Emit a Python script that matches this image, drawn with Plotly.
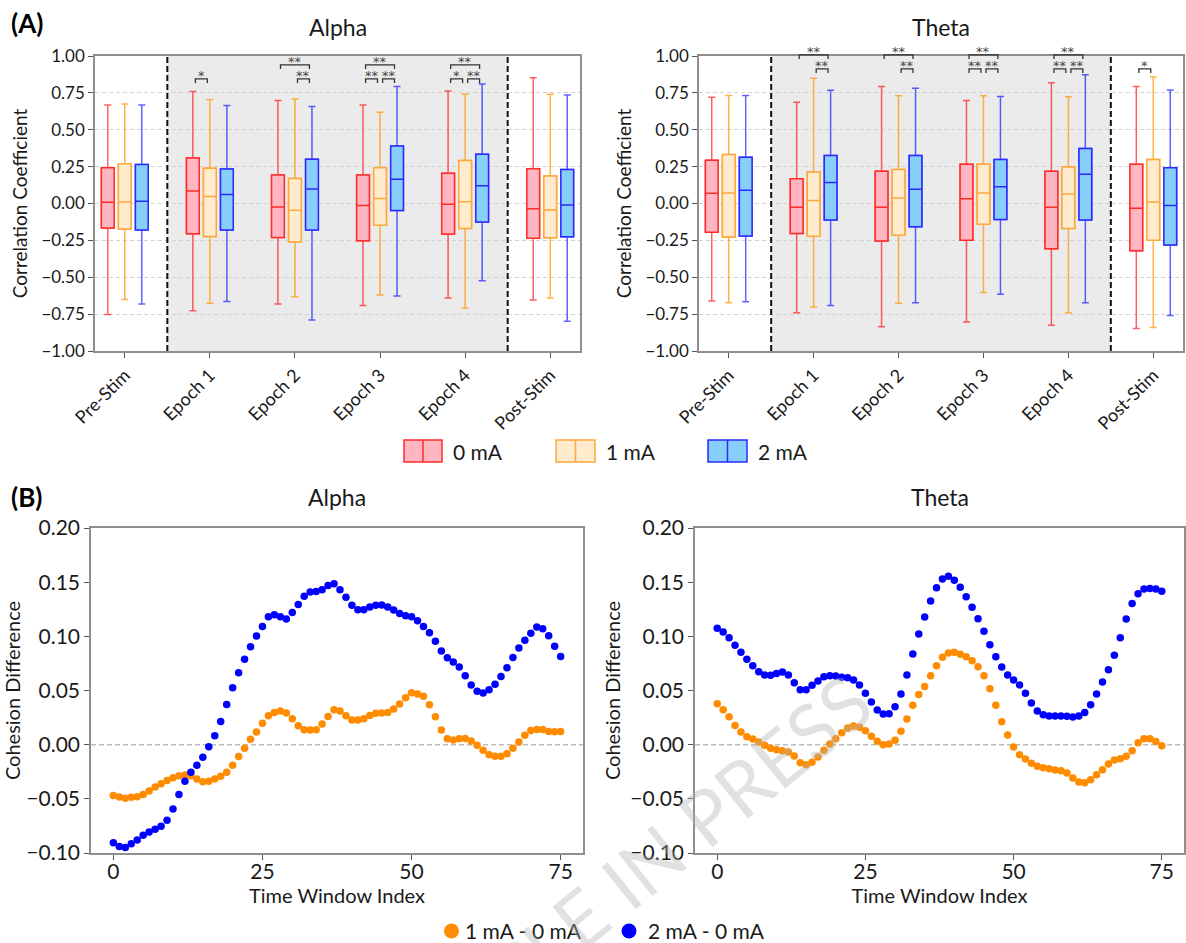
import plotly.graph_objects as go

W, H = 1186, 943
FONT = "Lato"

# ---------------- data ----------------
categories = ["Pre-Stim", "Epoch 1", "Epoch 2", "Epoch 3", "Epoch 4", "Post-Stim"]
currents = ["0 mA", "1 mA", "2 mA"]

# Alpha box statistics: rows = 0 mA, 1 mA, 2 mA ; columns = categories
alpha_lower = [[-0.752, -0.727, -0.682, -0.691, -0.641, -0.655],
               [-0.650, -0.677, -0.632, -0.620, -0.709, -0.641],
               [-0.682, -0.664, -0.789, -0.627, -0.524, -0.798]]
alpha_q1 = [[-0.166, -0.205, -0.230, -0.252, -0.207, -0.236],
            [-0.173, -0.223, -0.259, -0.148, -0.170, -0.232],
            [-0.180, -0.180, -0.180, -0.048, -0.125, -0.225]]
alpha_median = [[0.009, 0.085, -0.023, -0.014, -0.005, -0.036],
                [0.010, 0.048, -0.045, 0.034, 0.012, -0.044],
                [0.016, 0.061, 0.098, 0.165, 0.120, -0.011]]
alpha_q3 = [[0.243, 0.309, 0.193, 0.193, 0.205, 0.236],
            [0.270, 0.239, 0.170, 0.243, 0.291, 0.186],
            [0.264, 0.234, 0.300, 0.389, 0.334, 0.230]]
alpha_upper = [[0.668, 0.759, 0.698, 0.668, 0.762, 0.853],
               [0.675, 0.705, 0.709, 0.618, 0.741, 0.740],
               [0.668, 0.664, 0.657, 0.793, 0.810, 0.736]]

# Theta box statistics
theta_lower = [[-0.661, -0.741, -0.835, -0.803, -0.826, -0.847],
               [-0.673, -0.702, -0.677, -0.604, -0.741, -0.840],
               [-0.666, -0.691, -0.673, -0.616, -0.673, -0.760]]
theta_q1 = [[-0.195, -0.204, -0.254, -0.249, -0.307, -0.320],
            [-0.227, -0.222, -0.215, -0.140, -0.169, -0.249],
            [-0.220, -0.112, -0.158, -0.108, -0.112, -0.281]]
theta_median = [[0.070, -0.025, -0.025, 0.032, -0.025, -0.032],
                [0.071, 0.021, 0.037, 0.071, 0.064, 0.011],
                [0.089, 0.142, 0.096, 0.114, 0.198, -0.014]]
theta_q3 = [[0.293, 0.168, 0.218, 0.266, 0.218, 0.266],
            [0.332, 0.214, 0.230, 0.266, 0.248, 0.298],
            [0.314, 0.325, 0.325, 0.298, 0.373, 0.243]]
theta_upper = [[0.720, 0.686, 0.793, 0.698, 0.818, 0.793],
               [0.732, 0.850, 0.730, 0.730, 0.723, 0.857],
               [0.732, 0.768, 0.782, 0.725, 0.873, 0.770]]

# significance brackets: (category, group a, group b, label)
alpha_sig = [("Epoch 1", 0, 1, "*"),
             ("Epoch 2", 0, 2, "**"), ("Epoch 2", 1, 2, "**"),
             ("Epoch 3", 0, 2, "**"), ("Epoch 3", 0, 1, "**"), ("Epoch 3", 1, 2, "**"),
             ("Epoch 4", 0, 2, "**"), ("Epoch 4", 0, 1, "*"), ("Epoch 4", 1, 2, "**")]
theta_sig = [("Epoch 1", 0, 2, "**"), ("Epoch 1", 1, 2, "**"),
             ("Epoch 2", 0, 2, "**"), ("Epoch 2", 1, 2, "**"),
             ("Epoch 3", 0, 2, "**"), ("Epoch 3", 0, 1, "**"), ("Epoch 3", 1, 2, "**"),
             ("Epoch 4", 0, 2, "**"), ("Epoch 4", 0, 1, "**"), ("Epoch 4", 1, 2, "**"),
             ("Post-Stim", 0, 1, "*")]
alpha_sig_levels = [0.845, 0.940]   # adjacent pairs, outer pair
theta_sig_levels = [0.913, 1.008]

# cohesion difference time series (index 0..75)
time_index = list(range(76))
alpha_1mA = [-0.047, -0.0483, -0.0495, -0.0486, -0.048, -0.046, -0.0428, -0.039, -0.036, -0.033,
             -0.0305, -0.0286, -0.028, -0.0286, -0.0317, -0.0342, -0.0338, -0.0317, -0.0292, -0.0255,
             -0.019, -0.011, -0.0034, 0.0049, 0.0117, 0.0197, 0.0268, 0.0298, 0.031, 0.0292,
             0.024, 0.0175, 0.0138, 0.0135, 0.0138, 0.019, 0.026, 0.0323, 0.031, 0.0268,
             0.0228, 0.0228, 0.024, 0.027, 0.0289, 0.0292, 0.0298, 0.0329, 0.0375, 0.0434,
             0.048, 0.0468, 0.0446, 0.0369, 0.0258, 0.0135, 0.0055, 0.0043, 0.0055, 0.0058,
             0.0034, -0.0006, -0.0052, -0.0092, -0.0108, -0.0108, -0.0083, -0.0032, 0.0024, 0.0088,
             0.0131, 0.014, 0.014, 0.0122, 0.0119, 0.0122]
alpha_2mA = [-0.0905, -0.094, -0.095, -0.0914, -0.088, -0.0837, -0.0806, -0.078, -0.0754, -0.0698,
             -0.0594, -0.046, -0.0338, -0.0255, -0.019, -0.0117, -0.002, 0.0083, 0.0215, 0.037,
             0.0526, 0.0665, 0.0788, 0.0905, 0.1003, 0.109, 0.118, 0.120, 0.118, 0.116,
             0.122, 0.1295, 0.137, 0.141, 0.1415, 0.143, 0.147, 0.1486, 0.143, 0.136,
             0.1286, 0.1246, 0.1246, 0.127, 0.1286, 0.129, 0.127, 0.1243, 0.121, 0.119,
             0.118, 0.1145, 0.109, 0.1034, 0.0954, 0.0865, 0.0803, 0.0763, 0.0717, 0.0637,
             0.055, 0.0492, 0.0476, 0.0508, 0.0557, 0.063, 0.071, 0.0805, 0.0893, 0.0963,
             0.1028, 0.1086, 0.107, 0.1006, 0.0908, 0.0813]
theta_1mA = [0.0378, 0.0323, 0.0258, 0.0178, 0.0117, 0.0074, 0.0052, 0.0025, -0.0006, -0.0034,
             -0.0046, -0.0055, -0.0068, -0.0105, -0.0166, -0.0185, -0.0163, -0.0114, -0.0052, 0.0006,
             0.0055, 0.0111, 0.0154, 0.0172, 0.016, 0.0129, 0.0077, 0.0031, 0.0, 0.0006,
             0.004, 0.0123, 0.0237, 0.0363, 0.0462, 0.0538, 0.0637, 0.0729, 0.0806, 0.0846,
             0.0852, 0.0834, 0.0812, 0.0775, 0.072, 0.0637, 0.0517, 0.0363, 0.0212, 0.0089,
             -0.0022, -0.0092, -0.0132, -0.0172, -0.020, -0.0212, -0.0222, -0.0234, -0.024, -0.0262,
             -0.0308, -0.0345, -0.0351, -0.0323, -0.0277, -0.0231, -0.0178, -0.0142, -0.0129, -0.0106,
             -0.0055, 0.0018, 0.0055, 0.0055, 0.003, -0.0009]
theta_2mA = [0.1074, 0.104, 0.0988, 0.0917, 0.0852, 0.0788, 0.0729, 0.0674, 0.0643, 0.064,
             0.0658, 0.0671, 0.0643, 0.0572, 0.0508, 0.0508, 0.0548, 0.0588, 0.0628, 0.0637,
             0.0634, 0.0622, 0.0618, 0.0597, 0.0551, 0.0474, 0.0394, 0.032, 0.0283, 0.0286,
             0.0351, 0.0468, 0.0643, 0.0837, 0.1022, 0.1178, 0.1326, 0.1449, 0.1529, 0.1554,
             0.1517, 0.1452, 0.1366, 0.1268, 0.1163, 0.1046, 0.0923, 0.0812, 0.0717, 0.0643,
             0.0597, 0.0551, 0.0474, 0.0385, 0.0311, 0.0277, 0.0265, 0.0265, 0.0265, 0.0262,
             0.0255, 0.0265, 0.0298, 0.0369, 0.0468, 0.0578, 0.0692, 0.0825, 0.0988, 0.116,
             0.1304, 0.1393, 0.1436, 0.1442, 0.1436, 0.1417]

diff_labels = ["1 mA - 0 mA", "2 mA - 0 mA"]

# ---------------- styling ----------------
edge_colors = ["#FF2A2A", "#FFA73A", "#2A2AFF"]
whisker_colors = ["rgba(255,0,0,0.62)", "rgba(255,150,0,0.72)", "rgba(0,0,255,0.62)"]
fill_colors = ["#FFB6C1", "#FFEBCD", "#87CEFA"]
dot_colors = ["#FF8C00", "#0000FF"]
FRAME = "#8f8f8f"
TXT = "#1a1a1a"


def pxx(p):
    return p / W


def pxy(p):
    return 1 - p / H


dom_top_y = [pxy(351), pxy(56)]
dom_bot_y = [pxy(853), pxy(528)]
dom_tl = [pxx(95), pxx(580)]
dom_tr = [pxx(699), pxx(1183)]
dom_bl = [pxx(91), pxx(583)]
dom_br = [pxx(695), pxx(1184)]
cat_range = [-0.35, 5.35]
box_range = [-1.0, 1.0]
ts_xrange = [-3.75, 78.75]
ts_yrange = [-0.10, 0.20]
BOX_OFFSET = 0.2

fig = go.Figure()


def add_boxes(xa, ya, lower, q1, med, q3, upper):
    for k in range(3):
        common = dict(x=categories, q1=q1[k], median=med[k], q3=q3[k],
                      xaxis=xa, yaxis=ya, offsetgroup=str(k), alignmentgroup=xa,
                      fillcolor=fill_colors[k], boxpoints=False, showlegend=False,
                      hoverinfo="skip", name=currents[k])
        # whiskers (lighter)
        fig.add_trace(go.Box(lowerfence=lower[k], upperfence=upper[k],
                             line=dict(color=whisker_colors[k], width=1.5),
                             whiskerwidth=0.55, **common))
        # solid box + median
        fig.add_trace(go.Box(lowerfence=q1[k], upperfence=q3[k],
                             line=dict(color=edge_colors[k], width=1.5),
                             whiskerwidth=0, **common))


add_boxes("x", "y", alpha_lower, alpha_q1, alpha_median, alpha_q3, alpha_upper)
add_boxes("x2", "y2", theta_lower, theta_q1, theta_median, theta_q3, theta_upper)

for k, (a_series, t_series) in enumerate([(alpha_1mA, theta_1mA), (alpha_2mA, theta_2mA)]):
    fig.add_trace(go.Scatter(x=time_index, y=a_series, mode="markers", xaxis="x3", yaxis="y3",
                             marker=dict(color=dot_colors[k], size=7.5), showlegend=False,
                             name=diff_labels[k]))
    fig.add_trace(go.Scatter(x=time_index, y=t_series, mode="markers", xaxis="x4", yaxis="y4",
                             marker=dict(color=dot_colors[k], size=7.5), showlegend=False,
                             name=diff_labels[k]))

shapes = []
annotations = []

# shaded stimulation region + dashed separators (top panels)
for xa, ya in [("x", "y"), ("x2", "y2")]:
    shapes.append(dict(type="rect", xref=xa, yref=f"{ya} domain", x0=0.5, x1=4.5, y0=0, y1=1,
                       fillcolor="#EBEBEB", line=dict(width=0), layer="below"))
    for xv in (0.5, 4.5):
        shapes.append(dict(type="line", xref=xa, yref=f"{ya} domain", x0=xv, x1=xv, y0=0, y1=1,
                           line=dict(color="#111111", width=2, dash="6px,3px"), layer="above"))

# zero lines (bottom panels)
for xa, ya in [("x3", "y3"), ("x4", "y4")]:
    shapes.append(dict(type="line", xref=f"{xa} domain", yref=ya, x0=0, x1=1, y0=0, y1=0,
                       line=dict(color="#bdbdbd", width=1.5, dash="5px,3px"), layer="below"))


def to_paper(v, rng, dom):
    return dom[0] + (v - rng[0]) / (rng[1] - rng[0]) * (dom[1] - dom[0])


def add_sig(sig, levels, xdom):
    for cat, a, b, label in sig:
        c = categories.index(cat)
        lvl = levels[1] if (b - a) == 2 else levels[0]
        xa = c + (a - 1) * BOX_OFFSET + 0.03
        xb = c + (b - 1) * BOX_OFFSET - 0.03
        pxa = to_paper(xa, cat_range, xdom)
        pxb = to_paper(xb, cat_range, xdom)
        py = to_paper(lvl, box_range, dom_top_y)
        py0 = to_paper(lvl - 0.028, box_range, dom_top_y)
        shapes.append(dict(type="path", xref="paper", yref="paper",
                           path=f"M {pxa},{py0} L {pxa},{py} L {pxb},{py} L {pxb},{py0}",
                           line=dict(color="#333333", width=1.3), layer="above"))
        annotations.append(dict(x=(pxa + pxb) / 2, y=py, xref="paper", yref="paper",
                                text=label, showarrow=False, xanchor="center", yanchor="bottom",
                                yshift=-6,
                                font=dict(family="DejaVu Sans", size=13, color="#444444")))


add_sig(alpha_sig, alpha_sig_levels, dom_tl)
add_sig(theta_sig, theta_sig_levels, dom_tr)

# panel letters and titles
annotations.append(dict(x=pxx(9), y=pxy(23), xref="paper", yref="paper", text="<b>(A)</b>",
                        showarrow=False, xanchor="left", yanchor="middle",
                        font=dict(family=FONT, size=26, color="#000")))
annotations.append(dict(x=pxx(9), y=pxy(497), xref="paper", yref="paper", text="<b>(B)</b>",
                        showarrow=False, xanchor="left", yanchor="middle",
                        font=dict(family=FONT, size=26, color="#000")))
for txt, dom, ypix in [("Alpha", dom_tl, 27), ("Theta", dom_tr, 27),
                       ("Alpha", dom_bl, 497), ("Theta", dom_br, 497)]:
    annotations.append(dict(x=(dom[0] + dom[1]) / 2, y=pxy(ypix), xref="paper", yref="paper",
                            text=txt, showarrow=False, xanchor="center", yanchor="middle",
                            font=dict(family=FONT, size=23, color=TXT)))

# top legend (box patches)
leg_boxes = [(404, 442), (556, 595), (708, 747)]
for k, (x0p, x1p) in enumerate(leg_boxes):
    shapes.append(dict(type="rect", xref="paper", yref="paper",
                       x0=pxx(x0p), x1=pxx(x1p), y0=pxy(462), y1=pxy(440),
                       fillcolor=fill_colors[k], line=dict(color=edge_colors[k], width=1.5)))
    xm = (x0p + x1p) / 2
    shapes.append(dict(type="line", xref="paper", yref="paper",
                       x0=pxx(xm), x1=pxx(xm), y0=pxy(462), y1=pxy(440),
                       line=dict(color=edge_colors[k], width=1.5)))
    annotations.append(dict(x=pxx(x1p + 9), y=pxy(451), xref="paper", yref="paper",
                            text=currents[k], showarrow=False, xanchor="left", yanchor="middle",
                            font=dict(family=FONT, size=21, color=TXT)))

# bottom legend (dots)
leg_dots = [(451.5, 463), (629, 646)]
for k, (cx, tx) in enumerate(leg_dots):
    shapes.append(dict(type="circle", xref="paper", yref="paper",
                       x0=pxx(cx - 7.5), x1=pxx(cx + 7.5), y0=pxy(938.5), y1=pxy(923.5),
                       fillcolor=dot_colors[k], line=dict(width=0)))
    annotations.append(dict(x=pxx(tx), y=pxy(930), xref="paper", yref="paper",
                            text=diff_labels[k], showarrow=False, xanchor="left", yanchor="middle",
                            font=dict(family=FONT, size=21, color=TXT)))

# watermark
annotations.append(dict(x=pxx(612), y=pxy(890), xref="paper", yref="paper",
                        text="ARTICLE IN PRESS", showarrow=False, textangle=-39,
                        xanchor="center", yanchor="middle",
                        font=dict(family=FONT, size=76, color="rgba(175,175,175,0.38)")))

axis_common = dict(showline=True, mirror=True, linecolor=FRAME, linewidth=1.5,
                   ticks="outside", ticklen=5, tickcolor="#555555", automargin=False,
                   zeroline=False)

top_x = dict(type="category", categoryorder="array", categoryarray=categories,
             range=cat_range, tickangle=-45, showgrid=False,
             tickfont=dict(family=FONT, size=18, color=TXT), **axis_common)
top_y = dict(range=box_range, tick0=-1, dtick=0.25, tickformat=".2f", showgrid=True,
             gridcolor="#d2d2d2", griddash="4px,3px", gridwidth=1,
             tickfont=dict(family=FONT, size=17, color=TXT),
             title=dict(text="Correlation Coefficient", font=dict(family=FONT, size=19, color=TXT),
                        standoff=9),
             domain=dom_top_y, **axis_common)
bot_x = dict(range=ts_xrange, tickvals=[0, 25, 50, 75], showgrid=False,
             tickfont=dict(family=FONT, size=21, color=TXT), ticklabelstandoff=-6,
             title=dict(text="Time Window Index", font=dict(family=FONT, size=20, color=TXT),
                        standoff=0),
             **axis_common)
bot_y = dict(range=ts_yrange, tick0=-0.1, dtick=0.05, tickformat=".2f", showgrid=False,
             tickfont=dict(family=FONT, size=21, color=TXT),
             title=dict(text="Cohesion Difference", font=dict(family=FONT, size=20, color=TXT),
                        standoff=4),
             domain=dom_bot_y, **axis_common)

fig.update_layout(
    width=W, height=H, autosize=False,
    margin=dict(l=0, r=0, t=0, b=0),
    paper_bgcolor="white", plot_bgcolor="white",
    font=dict(family=FONT, color=TXT),
    boxmode="group", boxgap=0.4, boxgroupgap=0.25,
    showlegend=False,
    xaxis=dict(domain=dom_tl, anchor="y", **top_x),
    yaxis=dict(anchor="x", **top_y),
    xaxis2=dict(domain=dom_tr, anchor="y2", **top_x),
    yaxis2=dict(anchor="x2", **top_y),
    xaxis3=dict(domain=dom_bl, anchor="y3", **bot_x),
    yaxis3=dict(anchor="x3", **bot_y),
    xaxis4=dict(domain=dom_br, anchor="y4", **bot_x),
    yaxis4=dict(anchor="x4", **bot_y),
    shapes=shapes,
    annotations=annotations,
)

fig.write_html("out.html", config={"displayModeBar": False},
               post_script="document.body.style.margin='0px';document.body.style.overflow='hidden';")
